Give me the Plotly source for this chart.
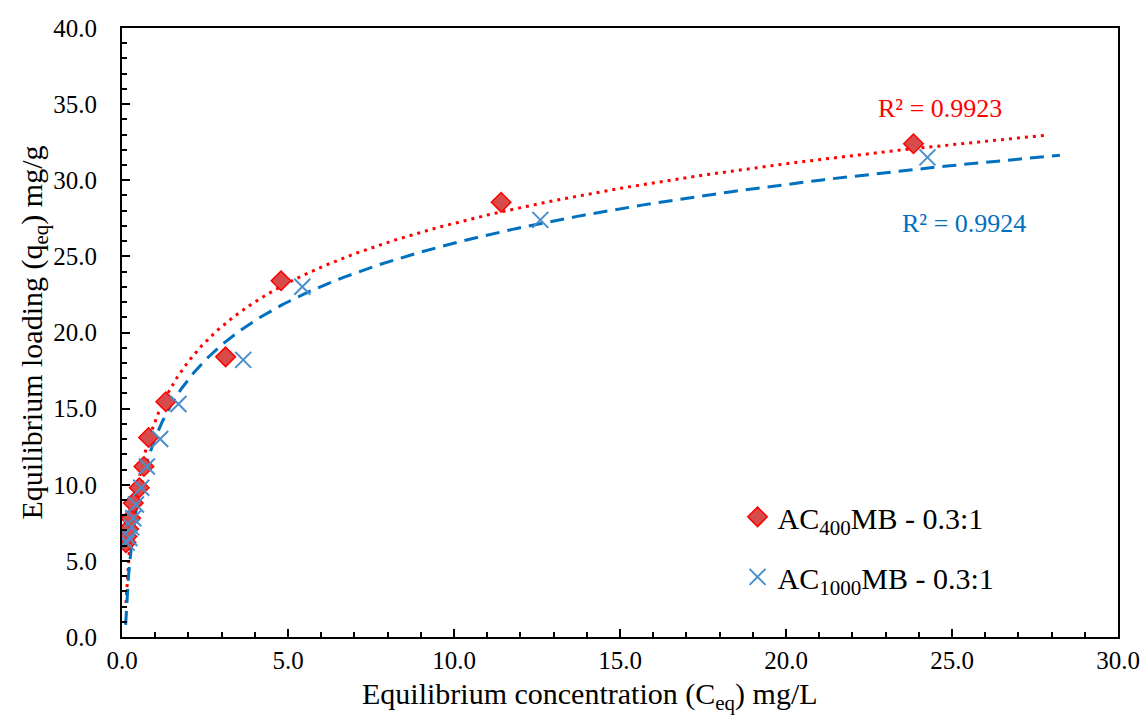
import numpy as np
import plotly.graph_objects as go

# Measured equilibrium data: concentration (mg/L) and loading (mg/g)
ac400_conc = [0.12, 0.15, 0.20, 0.26, 0.34, 0.52, 0.66, 0.80, 1.32, 3.12, 4.79, 11.42, 23.84]
ac400_load = [6.2, 6.6, 7.1, 7.8, 8.8, 9.8, 11.2, 13.1, 15.45, 18.4, 23.4, 28.55, 32.4]

ac1000_conc = [0.14, 0.22, 0.28, 0.34, 0.42, 0.58, 0.75, 1.15, 1.70, 3.65, 5.43, 12.60, 24.26]
ac1000_load = [6.2, 6.5, 7.2, 7.8, 8.7, 9.8, 11.2, 13.0, 15.3, 18.2, 23.0, 27.4, 31.5]

# Logarithmic trendlines q = a*ln(C) + b, with their fit range
ac400_fit = [5.64, 14.19]
ac400_fit_range = [0.12, 27.85]
ac1000_fit = [5.56, 13.07]
ac1000_fit_range = [0.11, 28.25]

ac400_r2 = "R² = 0.9923"
ac1000_r2 = "R² = 0.9924"

RED = "#FF0000"
RED_FILL = "#D84B4B"
BLUE_LINE = "#0070C0"
BLUE_MARK = "#4A8FCC"
FONT = "Liberation Serif"


def trend(coef, rng):
    c = np.geomspace(rng[0], rng[1], 400)
    return c, coef[0] * np.log(c) + coef[1]


fig = go.Figure()

cx, cy = trend(ac400_fit, ac400_fit_range)
fig.add_trace(go.Scatter(x=cx, y=cy, mode="lines", showlegend=False,
                         line=dict(color=RED, width=3, dash="3px,5px"), hoverinfo="skip"))
cx, cy = trend(ac1000_fit, ac1000_fit_range)
fig.add_trace(go.Scatter(x=cx, y=cy, mode="lines", showlegend=False,
                         line=dict(color=BLUE_LINE, width=3, dash="14px,8px"), hoverinfo="skip"))

fig.add_trace(go.Scatter(
    x=ac400_conc, y=ac400_load, mode="markers",
    name="AC<sub>400</sub>MB - 0.3:1", legendgroup="a",
    marker=dict(symbol="diamond", size=15, color=RED_FILL, line=dict(color=RED, width=1.5)),
))
fig.add_trace(go.Scatter(
    x=ac1000_conc, y=ac1000_load, mode="markers",
    name="AC<sub>1000</sub>MB - 0.3:1", legendgroup="b",
    marker=dict(symbol="x-thin", size=16, color=BLUE_MARK, line=dict(color=BLUE_MARK, width=2)),
))

fig.add_annotation(x=24.64, y=34.73, text=ac400_r2, showarrow=False,
                   font=dict(family=FONT, size=26, color=RED))
fig.add_annotation(x=25.36, y=27.18, text=ac1000_r2, showarrow=False,
                   font=dict(family=FONT, size=26, color=BLUE_LINE))

# x-axis title placed as an annotation below the tick labels
fig.add_annotation(xref="paper", yref="paper", x=0.47, y=-0.097,
                   xanchor="center", yanchor="middle", showarrow=False,
                   text="Equilibrium concentration (C<sub>eq</sub>) mg/L",
                   font=dict(family=FONT, size=30, color="black"))

axis_common = dict(
    showline=True, linecolor="black", linewidth=2, mirror=True,
    ticks="inside", ticklen=8, tickwidth=2, tickcolor="black",
    showgrid=False, zeroline=False, tickformat=".1f",
    tickfont=dict(family=FONT, size=25, color="black"),
    minor=dict(ticks="inside", ticklen=5, tickwidth=1.5, tickcolor="black", dtick=1, showgrid=False),
)

fig.update_xaxes(range=[0, 30], dtick=5, **axis_common)
fig.update_yaxes(range=[0, 40], dtick=5, ticklabelstandoff=18,
                 title=dict(text="Equilibrium loading (q<sub>eq</sub>) mg/g",
                            font=dict(family=FONT, size=30, color="black"), standoff=2),
                 **axis_common)

fig.update_layout(
    width=1143, height=718,
    margin=dict(l=122, r=25, t=28, b=81, autoexpand=False),
    paper_bgcolor="white", plot_bgcolor="white",
    font=dict(family=FONT, color="black"),
    legend=dict(x=0.618, y=0.240, xanchor="left", yanchor="top",
                font=dict(family=FONT, size=30, color="black"),
                bgcolor="rgba(0,0,0,0)", tracegroupgap=18, itemwidth=30),
)

fig.write_html("out.html")
